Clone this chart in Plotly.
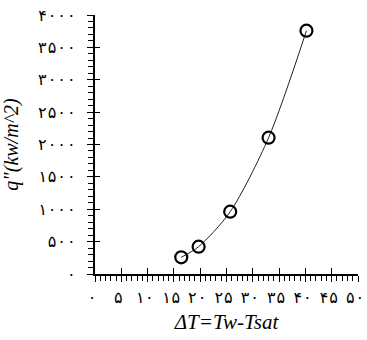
import plotly.graph_objects as go

delta_t = [16.4, 19.7, 25.7, 33.0, 40.2]
q_flux = [258, 422, 962, 2105, 3758]

x_tickvals = [0, 5, 10, 15, 20, 25, 30, 35, 40, 45, 50]
x_ticktext = ["۰", "۵", "۱۰", "۱۵", "۲۰", "۲۵", "۳۰", "۳۵", "۴۰", "۴۵", "۵۰"]
y_tickvals = [0, 500, 1000, 1500, 2000, 2500, 3000, 3500, 4000]
y_ticktext = ["۰", "۵۰۰", "۱۰۰۰", "۱۵۰۰", "۲۰۰۰", "۲۵۰۰", "۳۰۰۰", "۳۵۰۰", "۴۰۰۰"]

x_title = "ΔT=Tw-Tsat"
y_title = 'q"(kw/m^2)'

fig = go.Figure()
fig.add_trace(go.Scatter(
    x=delta_t, y=q_flux, mode="lines",
    line=dict(color="#222", width=1, shape="spline", smoothing=0.8),
    showlegend=False, hoverinfo="skip"))
fig.add_trace(go.Scatter(
    x=delta_t, y=q_flux, mode="markers",
    marker=dict(symbol="circle-open", size=12, color="black", line=dict(width=2.2, color="black")),
    showlegend=False))
fig.add_trace(go.Scatter(x=[None], y=[None], xaxis="x2", yaxis="y2", showlegend=False))

tickfont = dict(family="DejaVu Sans Mono, DejaVu Sans", size=16, color="black")
xtitlefont = dict(family="Liberation Serif", size=21, color="black", style="italic")
ytitlefont = dict(family="Liberation Serif", size=20, color="black", style="italic")

fig.update_layout(
    width=367, height=340,
    margin=dict(l=95, r=9, t=15, b=66),
    paper_bgcolor="white", plot_bgcolor="white",
    xaxis=dict(
        range=[0, 50], tickvals=x_tickvals, ticktext=x_ticktext,
        showgrid=False, zeroline=False, automargin=False,
        showline=True, linecolor="black", linewidth=1.5,
        ticks="outside", ticklen=6, tickwidth=1.2, tickcolor="black",
        minor=dict(dtick=1, ticks="outside", ticklen=5, tickwidth=1, tickcolor="black", showgrid=False),
        tickfont=tickfont, ticklabelstandoff=2, ticklabelshift=-3,
        ticklabeloverflow="allow",
        title=dict(text=x_title, font=xtitlefont, standoff=8),
    ),
    yaxis=dict(
        range=[0, 4000], tickvals=y_tickvals, ticktext=y_ticktext,
        showgrid=False, zeroline=False, automargin=False,
        showline=True, linecolor="black", linewidth=1.5,
        ticks="outside", ticklen=6, tickwidth=1.2, tickcolor="black",
        minor=dict(dtick=100, ticks="outside", ticklen=5, tickwidth=1, tickcolor="black", showgrid=False),
        tickfont=tickfont, ticklabelstandoff=8,
        ticklabeloverflow="allow",
        title=dict(text=y_title, font=ytitlefont, standoff=14),
    ),
    xaxis2=dict(
        overlaying="x", range=[0, 50], tickvals=x_tickvals, showticklabels=False,
        showgrid=False, zeroline=False, showline=False, automargin=False,
        ticks="inside", ticklen=6, tickwidth=1.2, tickcolor="black",
    ),
    yaxis2=dict(
        overlaying="y", range=[0, 4000], tickvals=y_tickvals, showticklabels=False,
        showgrid=False, zeroline=False, showline=False, automargin=False,
        ticks="inside", ticklen=5, tickwidth=1.2, tickcolor="black",
    ),
)

fig.write_html("out.html", config={"displayModeBar": False},
               post_script="document.body.style.margin='0';")
